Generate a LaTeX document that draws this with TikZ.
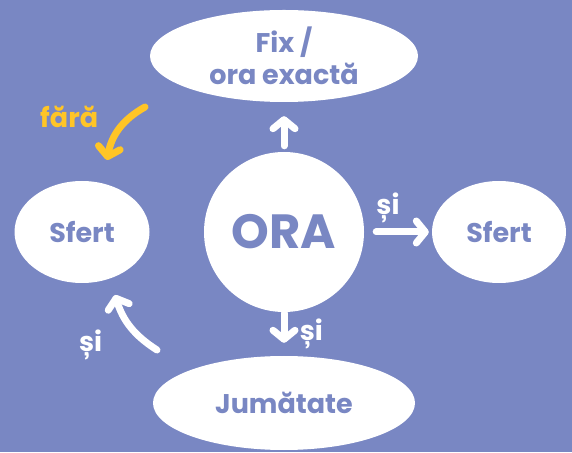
\documentclass[tikz,border=0pt]{standalone}
\usepackage{fontspec}
\setmainfont{Poppins}
\usetikzlibrary{shapes.geometric,arrows.meta}

\definecolor{bgcolor}{RGB}{121,135,195}
\definecolor{yellowcolor}{RGB}{255,197,38}

\begin{document}
\begin{tikzpicture}[x=1pt, y=1pt, font=\bfseries\fontsize{27}{32}\selectfont,
	main/.style = {fill=white, ellipse, inner sep=0pt, text=bgcolor, align=center},
	arr/.style = {white, line width=7pt, line cap=round, -{Straight Barb[length=9pt, width=22pt, round]}}]
		\fill[bgcolor] (0,0) rectangle (572,452);

		\node[main, circle, minimum size=160pt, font=\bfseries\fontsize{48}{58}\selectfont] (ORA) at (284,220) {ORA};
		\node[main, minimum width=268pt, minimum height=92pt] (Fix) [above of=ORA, node distance=176pt] {Fix /\\ora exactă};
		\node[main, minimum width=135pt, minimum height=102pt] (SfertL) [left of=ORA, node distance=202pt] {Sfert};
		\node[main, minimum width=134pt, minimum height=102pt] (SfertR) [right of=ORA, node distance=215pt] {Sfert};
		\node[main, minimum width=262pt, minimum height=94pt] (Jum) [below of=ORA, node distance=171pt] {Jumătate};

		\coordinate (fromJum) at (157,102);
		\coordinate (toSfert) at (115,157);
		\coordinate (fromFara) at (145,345);
		\coordinate (toSfertL) at (107,292);

		\draw[arr, shorten <=6pt, shorten >=14pt] (ORA) -- (Fix);
		\draw[arr, shorten <=1pt, shorten >=13pt] (ORA) -- node[midway, right=9pt, white] (siJ) {și} (Jum);
		\draw[arr, shorten <=12pt, shorten >=3pt] (ORA.east) -- node[midway, above, xshift=-10pt, yshift=2pt, white] (siR) {și} (SfertR.west);

		\draw[arr] (fromJum) to[bend left=20] node[at start, left=48pt, yshift=5pt, white] (siL) {și} (toSfert);
		%\path (fromFara) edge[bend right] (toSfertL);
		\draw[arr, yellowcolor] (fromFara) to[bend right=25] node[at start, left=40pt, yshift=-10pt, yellowcolor] (fara) {fără} (toSfertL);
	\end{tikzpicture}
\end{document}
